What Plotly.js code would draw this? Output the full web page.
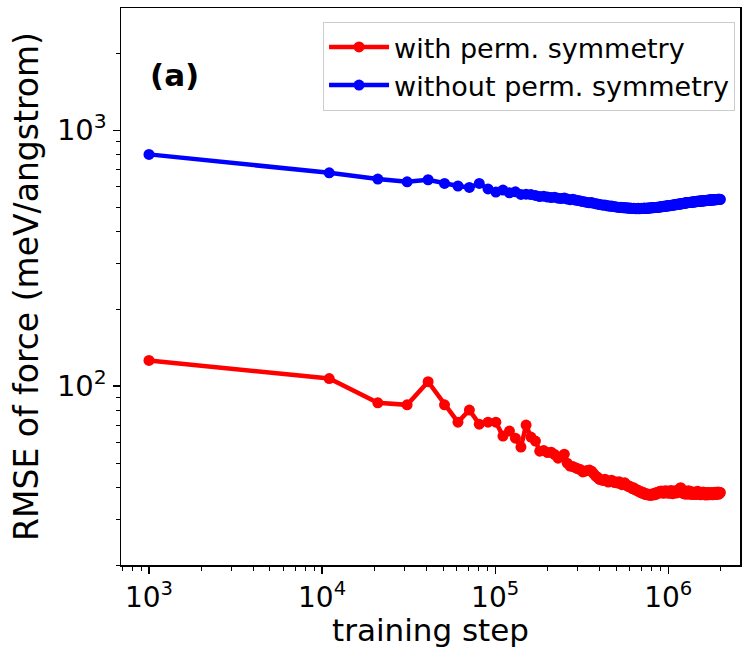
<!DOCTYPE html>
<html>
<head>
<meta charset="utf-8">
<script src="https://cdn.plot.ly/plotly-3.0.1.min.js"></script>
<style>html,body{margin:0;padding:0;background:#fff;}#chart{width:744px;height:648px;}</style>
</head>
<body>
<div id="chart"></div>
<script>
const steps = [1000,11000,21000,31000,41000,51000,61000,71000,81000,91000,
101000,111000,121000,131000,141000,151000,161000,171000,181000,191000,
201000,211000,221000,231000,241000,251000,261000,271000,281000,291000,
301000,311000,321000,331000,341000,351000,361000,371000,381000,391000,
401000,411000,421000,431000,441000,451000,461000,471000,481000,491000,
501000,511000,521000,531000,541000,551000,561000,571000,581000,591000,
601000,611000,621000,631000,641000,651000,661000,671000,681000,691000,
701000,711000,721000,731000,741000,751000,761000,771000,781000,791000,
801000,811000,821000,831000,841000,851000,861000,871000,881000,891000,
901000,911000,921000,931000,941000,951000,961000,971000,981000,991000,
1001000,1011000,1021000,1031000,1041000,1051000,1061000,1071000,1081000,1091000,
1101000,1111000,1121000,1131000,1141000,1151000,1161000,1171000,1181000,1191000,
1201000,1211000,1221000,1231000,1241000,1251000,1261000,1271000,1281000,1291000,
1301000,1311000,1321000,1331000,1341000,1351000,1361000,1371000,1381000,1391000,
1401000,1411000,1421000,1431000,1441000,1451000,1461000,1471000,1481000,1491000,
1501000,1511000,1521000,1531000,1541000,1551000,1561000,1571000,1581000,1591000,
1601000,1611000,1621000,1631000,1641000,1651000,1661000,1671000,1681000,1691000,
1701000,1711000,1721000,1731000,1741000,1751000,1761000,1771000,1781000,1791000,
1801000,1811000,1821000,1831000,1841000,1851000,1861000,1871000,1881000,1891000,
1901000,1911000,1921000,1931000,1941000,1951000,1961000,1971000,1981000,1991000,
2001000];

const withPerm = [126,107,86,84.5,104,84.5,72.3,80.6,71,72.3,
72.3,63.8,66.7,62.6,57.8,70.4,63.2,61,55.7,56,
55,55.2,54,52.3,53,54.2,50,48.7,48.5,48,
47.5,47.2,46.2,46.5,46.8,47,46.5,45.5,44.5,44,
43.2,43,42.8,43.3,42.6,42.2,42.5,42.9,42.3,42,
42.2,41.8,42.3,41.6,41.2,41.5,41.9,41.3,40.8,40.5,
40.6,40.2,39.8,40.1,39.5,39.2,39.4,38.9,38.6,38.8,
38.3,38.1,38.4,37.9,37.7,38,37.6,37.5,37.8,37.4,
37.6,37.9,37.5,38.1,37.7,38.3,37.9,38.5,38.2,38.7,
38.4,38.9,38.3,38.7,38.1,38.6,39,38.4,38.8,38.2,
38.9,38.5,38.1,38.7,39.1,38.4,38.0,38.6,38.9,38.3,
38.7,38.2,38.8,39.2,38.5,38.9,39.4,39.8,40.1,39.3,
38.6,38.2,38.7,38.1,37.9,38.5,38.9,38.3,37.8,38.2,
38.6,39.0,38.4,37.9,38.3,38.7,38.1,37.7,38.2,38.5,
38.0,37.8,38.3,38.6,38.1,37.7,38.0,38.4,38.8,38.2,
37.8,38.1,38.5,37.9,37.6,38.0,38.3,37.8,38.2,38.6,
38.0,37.7,38.1,38.4,37.9,37.5,37.9,38.3,37.8,38.1,
38.4,37.9,37.6,38.0,38.3,37.8,38.2,37.7,38.0,38.4,
37.9,37.6,38.0,38.3,37.8,38.1,38.5,37.9,37.7,38.1,
38.4,37.9,38.2,38.6,38.0,37.8,38.2,38.5,38.1,38.3,
38.4];

const withoutPerm = [804,681,644,628,640,619,605,597,619,589,
573,583,569,574,561,562,560,556,550,552,
548,545,547,542,540,543,538,535,537,533,
531,529,526,524,522,520,521,518,516,514,
512,511,509,510,507,506,504,505,503,502,
501,500,499,500,498,497,498,496,497,495,
496,495,494,495,494,493,494,495,493,494,
495,494,495,496,494,495,496,495,497,496,
497,498,497,498,499,498,500,499,501,500,
502,501,503,502,504,503,505,504,506,505,
507,506,508,507,509,508,510,509,511,510,
512,511,513,512,514,513,515,514,516,515,
517,516,518,517,519,518,520,519,521,520,
522,521,522,521,523,522,524,523,524,523,
525,524,525,524,526,525,527,526,527,526,
528,527,528,527,529,528,529,528,530,529,
530,529,530,531,530,531,530,532,531,532,
531,533,532,533,532,533,534,533,534,533,
534,533,534,535,534,535,534,535,536,535,
536,535,536,537,536,537,536,537,536,537,
536];

const seriesNames = ['with perm. symmetry', 'without perm. symmetry'];
const xTickVals = [1e3, 1e4, 1e5, 1e6];
const xTickText = ['10<sup>3</sup>', '10<sup>4</sup>', '10<sup>5</sup>', '10<sup>6</sup>'];
const yTickVals = [1e2, 1e3];
const yTickText = ['10<sup>2</sup>', '10<sup>3</sup>'];
const xMinorVals = [700,800,900,2000,3000,4000,5000,6000,7000,8000,9000,
 20000,30000,40000,50000,60000,70000,80000,90000,
 200000,300000,400000,500000,600000,700000,800000,900000,
 2000000];
const yMinorVals = [20,30,40,50,60,70,80,90,200,300,400,500,600,700,800,900,2000];

const FONT = 'DejaVu Sans, sans-serif';

const traces = [
  {x: steps, y: withPerm, name: seriesNames[0], type: 'scatter', mode: 'lines+markers',
   line: {color: '#ff0000', width: 4.5}, marker: {color: '#ff0000', size: 11}},
  {x: steps, y: withoutPerm, name: seriesNames[1], type: 'scatter', mode: 'lines+markers',
   line: {color: '#0000ff', width: 4.5}, marker: {color: '#0000ff', size: 11}}
];

const layout = {
  width: 744, height: 648,
  margin: {l: 121, r: 4, t: 8, b: 83, pad: 0},
  paper_bgcolor: '#ffffff', plot_bgcolor: '#ffffff',
  font: {family: FONT, color: '#000000'},
  showlegend: true,
  legend: {x: 0.992, y: 0.975, xanchor: 'right', yanchor: 'top',
    bgcolor: 'rgba(255,255,255,0.8)', bordercolor: '#cccccc', borderwidth: 1,
    font: {family: FONT, size: 27, color: '#000000'}, tracegroupgap: 0, itemwidth: 60},
  xaxis: {type: 'log', range: [Math.log10(689), Math.log10(2.6e6)],
    showline: true, mirror: true, linecolor: '#000000', linewidth: 1.5,
    showgrid: false, zeroline: false,
    ticks: 'outside', ticklen: 7, tickwidth: 1.2, tickcolor: '#000000',
    tickmode: 'array', tickvals: xTickVals, ticktext: xTickText,
    tickfont: {family: FONT, size: 28, color: '#000000'},
    minor: {tickmode: 'array', tickvals: xMinorVals, ticks: 'outside', ticklen: 4, tickwidth: 1, tickcolor: '#000000', showgrid: false},
    title: {text: 'training step', font: {family: FONT, size: 31, color: '#000000'}, standoff: 2}},
  yaxis: {type: 'log', range: [Math.log10(20), Math.log10(3000)],
    showline: true, mirror: true, linecolor: '#000000', linewidth: 1.5,
    showgrid: false, zeroline: false,
    ticks: 'outside', ticklen: 7, tickwidth: 1.2, tickcolor: '#000000',
    tickmode: 'array', tickvals: yTickVals, ticktext: yTickText,
    tickfont: {family: FONT, size: 29, color: '#000000'},
    minor: {tickmode: 'array', tickvals: yMinorVals, ticks: 'outside', ticklen: 4, tickwidth: 1, tickcolor: '#000000', showgrid: false},
    title: {text: 'RMSE of force (meV/angstrom)', font: {family: FONT, size: 33, color: '#000000'}, standoff: 8}},
  annotations: [{text: '<b>(a)</b>', xref: 'paper', yref: 'paper', x: 0.087, y: 0.88,
    xanchor: 'center', yanchor: 'middle', showarrow: false,
    font: {family: FONT, size: 31, color: '#000000'}}]
};

Plotly.newPlot('chart', traces, layout, {displayModeBar: false, staticPlot: true});
</script>
</body>
</html>
